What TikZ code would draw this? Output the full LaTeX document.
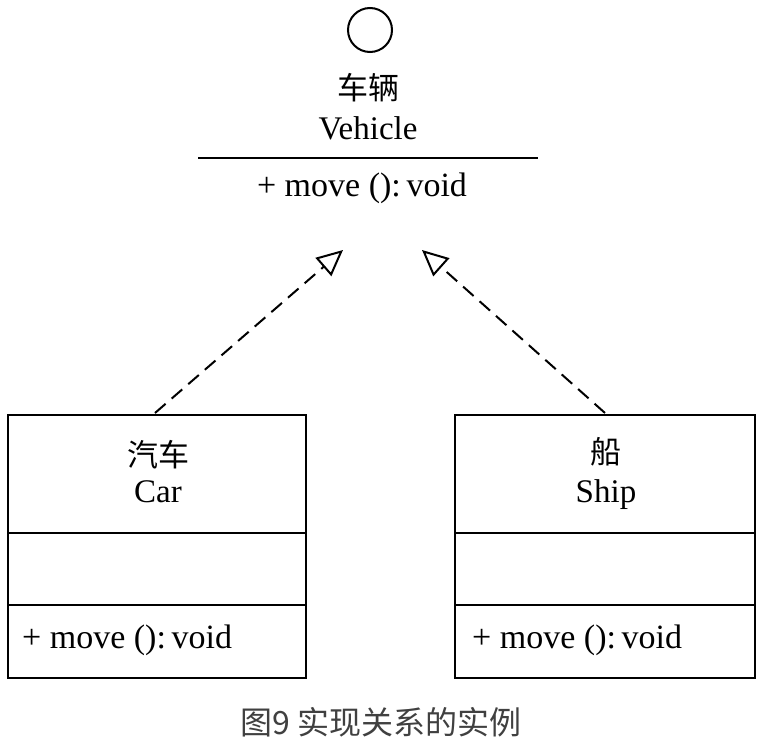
\documentclass[tikz,border=0pt]{standalone}
\usepackage{fontspec}
\setmainfont{Liberation Serif}
\newfontfamily\cjk{Noto Sans CJK SC}
\usetikzlibrary{arrows.meta}
\tikzset{
  txt/.style={inner sep=0pt, font=\fontsize{33}{36}\selectfont},
  mtxt/.style={inner sep=0pt, font=\fontsize{34}{36}\selectfont},
  cjktxt/.style={inner sep=0pt, font=\cjk\fontsize{31}{36}\selectfont},
  real/.style={draw, line width=2pt, dash pattern=on 14pt off 8pt, -{Triangle[open, length=26pt, width=24pt, line width=2pt]}},
  boxline/.style={line width=2pt}
}
\begin{document}
\begin{tikzpicture}[x=1pt,y=-1pt]
\useasboundingbox (0,0) rectangle (760,746);
\node[draw, circle, minimum size=44pt, inner sep=0pt, line width=2pt] (c) at (370,30) {};
\node[cjktxt] (vc) at (368,88) {车辆};
\node[txt] (v) at (368,128) {Vehicle};
\draw[boxline] (198,158) coordinate (vl1) -- (538,158) coordinate (vl2);
\node[mtxt] (vm) at (362,188) {+ move ():\,void};
% Car
\draw[boxline] (8,415) rectangle (306,678);
\draw[boxline] (8,533) -- (306,533);
\draw[boxline] (8,605) -- (306,605);
\node[cjktxt] (cc) at (158,455) {汽车};
\node[txt] (car) at (158,492) {Car};
\node[mtxt, anchor=west] (cm) at (22,640) {+ move ():\,void};
% Ship
\draw[boxline] (455,415) rectangle (755,678);
\draw[boxline] (455,533) -- (755,533);
\draw[boxline] (455,605) -- (755,605);
\node[cjktxt] (sc) at (606,452) {船};
\node[txt] (ship) at (606,495) {Ship};
\node[mtxt, anchor=west] (sm) at (472,640) {+ move ():\,void};
% arrows
\coordinate (a1s) at (155,413);
\coordinate (a1e) at (343,250);
\coordinate (a2s) at (605,413);
\coordinate (a2e) at (422,250);
\draw[real] (a1s) -- (a1e);
\draw[real] (a2s) -- (a2e);
\node[inner sep=0pt, text=black!75, font=\cjk\fontsize{32}{36}\selectfont] (cap) at (381,722) {图9 实现关系的实例};
\end{tikzpicture}
\end{document}
